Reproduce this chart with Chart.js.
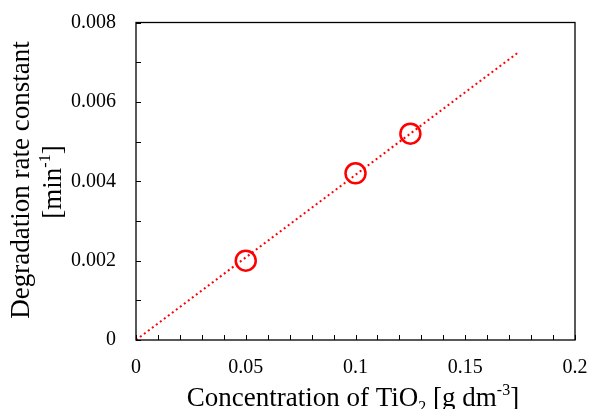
<!DOCTYPE html>
<html>
<head>
<meta charset="utf-8">
<script src="https://cdn.jsdelivr.net/npm/chart.js@4/dist/chart.umd.min.js"></script>
<style>
  html, body { margin: 0; padding: 0; background: #fff; }
</style>
</head>
<body>
<canvas id="chart" width="589" height="409"></canvas>
<script>
// measured points: TiO2 concentration [g dm-3] vs rate constant [min-1]
const concentration = [0.05, 0.1, 0.125];
const rateConstant = [0.002, 0.0042, 0.0052];

// dotted fit line (ends near x = 0.174)
const fitX = [0, 0.174];
const fitY = [0, 0.00724];

const xTicks = [0, 0.05, 0.1, 0.15, 0.2];
const yTicks = [0, 0.002, 0.004, 0.006, 0.008];

const RED = '#ff0000';
const FONT = '"Liberation Serif", "Times New Roman", serif';

// no extra room for overhanging tick labels, the plot box is fixed
function noOverhang(s) {
  s.paddingLeft = 0;
  s.paddingRight = 0;
  s.paddingTop = 0;
  s.paddingBottom = 0;
}

// frame, inward tick marks and the axis titles with sub/superscripts
const framePlugin = {
  id: 'frame',
  afterDatasetsDraw(chart) {
    const { ctx, chartArea: a, scales } = chart;
    ctx.save();
    ctx.strokeStyle = '#000';
    ctx.lineWidth = 1.3;
    ctx.strokeRect(a.left, a.top, a.right - a.left, a.bottom - a.top);

    ctx.lineWidth = 1;
    ctx.beginPath();
    for (let i = 0; i <= 20; i++) {
      const px = Math.round(scales.x.getPixelForValue(i * 0.01)) + 0.5;
      ctx.moveTo(px, a.bottom);
      ctx.lineTo(px, a.bottom - 5);
    }
    for (let i = 0; i <= 8; i++) {
      const py = Math.round(scales.y.getPixelForValue(i * 0.001)) + 0.5;
      ctx.moveTo(a.left, py);
      ctx.lineTo(a.left + 5, py);
    }
    ctx.stroke();
    ctx.restore();
  },
  afterDraw(chart) {
    const { ctx } = chart;
    ctx.save();
    ctx.fillStyle = '#000';
    ctx.textBaseline = 'alphabetic';

    const big = '27px ' + FONT, small = '16px ' + FONT;

    // x title
    const parts = [
      ['Concentration of TiO', big, 0],
      ['2', small, 6],
      [' [g dm', big, 0],
      ['-3', small, -11],
      [']', big, 0]
    ];
    let w = 0;
    parts.forEach(p => { ctx.font = p[1]; w += ctx.measureText(p[0]).width; });
    let x = 353 - w / 2;
    parts.forEach(p => {
      ctx.font = p[1];
      ctx.fillText(p[0], x, 406 + p[2]);
      x += ctx.measureText(p[0]).width;
    });

    // y title, two lines rotated
    ctx.save();
    ctx.translate(29, 180);
    ctx.rotate(-Math.PI / 2);
    ctx.font = big;
    ctx.textAlign = 'center';
    ctx.fillText('Degradation rate constant', 0, 0);
    ctx.restore();

    ctx.save();
    ctx.translate(61, 182);
    ctx.rotate(-Math.PI / 2);
    const parts2 = [['[min', big, 0], ['-1', small, -11], [']', big, 0]];
    let w2 = 0;
    parts2.forEach(p => { ctx.font = p[1]; w2 += ctx.measureText(p[0]).width; });
    let x2 = -w2 / 2;
    parts2.forEach(p => {
      ctx.font = p[1];
      ctx.fillText(p[0], x2, p[2]);
      x2 += ctx.measureText(p[0]).width;
    });
    ctx.restore();
    ctx.restore();
  }
};

new Chart(document.getElementById('chart'), {
  type: 'scatter',
  data: {
    datasets: [
      {
        type: 'line',
        data: fitX.map((v, i) => ({ x: v, y: fitY[i] })),
        borderColor: RED,
        borderWidth: 2,
        borderDash: [2, 3],
        pointRadius: 0,
        fill: false
      },
      {
        data: concentration.map((v, i) => ({ x: v, y: rateConstant[i] })),
        borderColor: RED,
        backgroundColor: 'rgba(0,0,0,0)',
        pointRadius: 10,
        pointBorderWidth: 2.5,
        pointHoverRadius: 10
      }
    ]
  },
  options: {
    responsive: false,
    animation: false,
    layout: { padding: { left: 0, top: 22.5, right: 14, bottom: 0 } },
    plugins: { legend: { display: false }, tooltip: { enabled: false } },
    scales: {
      x: {
        type: 'linear',
        min: 0,
        max: 0.2,
        afterFit: s => { s.height = 69; noOverhang(s); },
        afterBuildTicks: s => { s.ticks = xTicks.map(v => ({ value: v })); },
        grid: { display: false, drawTicks: false },
        border: { display: false },
        ticks: {
          padding: 16,
          color: '#000',
          font: { family: FONT, size: 20 },
          callback: v => String(+v.toFixed(3))
        }
      },
      y: {
        type: 'linear',
        min: 0,
        max: 0.008,
        afterFit: s => { s.width = 136; noOverhang(s); },
        afterBuildTicks: s => { s.ticks = yTicks.map(v => ({ value: v })); },
        grid: { display: false, drawTicks: false },
        border: { display: false },
        ticks: {
          padding: 20,
          color: '#000',
          font: { family: FONT, size: 20 },
          callback: v => String(+v.toFixed(3))
        }
      }
    }
  },
  plugins: [framePlugin]
});
</script>
</body>
</html>
